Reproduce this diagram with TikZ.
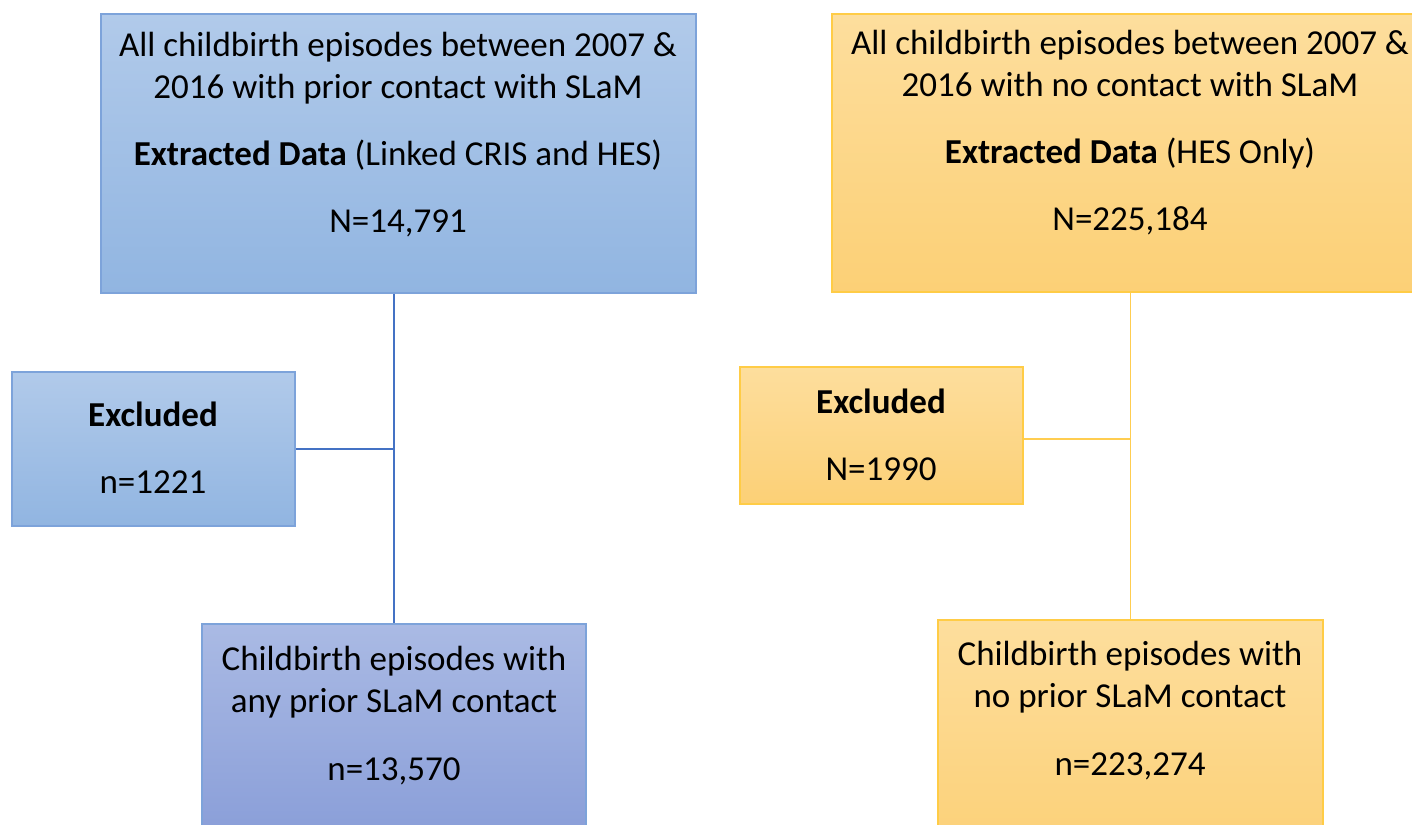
\documentclass[tikz,border=0pt]{standalone}
\usepackage{fontspec}
\setmainfont{Carlito}
\usepackage{xcolor}

\definecolor{blueedge}{RGB}{125,163,218}
\definecolor{bluetop}{RGB}{177,202,234}
\definecolor{bluebot}{RGB}{145,181,225}
\definecolor{violtop}{RGB}{170,186,228}
\definecolor{violbot}{RGB}{134,155,215}
\definecolor{bluelink}{RGB}{68,114,196}
\definecolor{goldedge}{RGB}{255,204,70}
\definecolor{goldtop}{RGB}{253,222,157}
\definecolor{goldbot}{RGB}{252,208,118}
\definecolor{goldlink}{RGB}{255,205,80}

\begin{document}
\begin{tikzpicture}[x=1pt, y=-1pt,
    box/.style={rectangle, inner sep=0pt, line width=1.5pt},
    bluebox/.style={box, draw=blueedge, top color=bluetop, bottom color=bluebot},
    violbox/.style={box, draw=blueedge, top color=violtop, bottom color=violbot},
    goldbox/.style={box, draw=goldedge, top color=goldtop, bottom color=goldbot},
    txt/.style={anchor=base, align=center, inner sep=0pt, font=\fontsize{35}{42}\selectfont}]

    % page frame
    \useasboundingbox (0,0) rectangle (1412,824);

    % Left column: prior contact with SLaM

    \node[bluebox, minimum width=595pt, minimum height=279pt] (prior) at (398.5,153.5) {};
    \node[bluebox, minimum width=283pt, minimum height=154pt] (exclA) at (153.5,449) {};
    \node[violbox, minimum width=384pt, minimum height=236pt] (cohortA) at (394,742) {};

    \draw[bluelink, line width=1.3pt] (prior.south -| cohortA.north) -- (cohortA.north);
    \draw[bluelink, line width=1.3pt] (exclA.east) -- (exclA.east -| cohortA.north);

    % two-line texts sit on the baseline of their last line
    \node[txt] (priorT) at (398,99) {All childbirth episodes between 2007 \&\\2016 with prior contact with SLaM};
    \node[txt] (priorD) at (398,165) {\textbf{Extracted Data} (Linked CRIS and HES)};
    \node[txt] (priorN) at (398,232) {N=14,791};

    \node[txt] (exclAT) at (153,426) {\textbf{Excluded}};
    \node[txt] (exclAN) at (153,493) {n=1221};

    \node[txt] (cohortAT) at (394,712) {Childbirth episodes with\\any prior SLaM contact};
    \node[txt] (cohortAN) at (394,780) {n=13,570};

    % Right column: no contact with SLaM

    \node[goldbox, minimum width=596pt, minimum height=278pt] (noprior) at (1130,153) {};
    \node[goldbox, minimum width=283pt, minimum height=137pt] (exclB) at (881.5,435.5) {};
    \node[goldbox, minimum width=385pt, minimum height=240pt] (cohortB) at (1130.5,740) {};

    \draw[goldlink, line width=1.5pt] (noprior.south -| cohortB.north) -- (cohortB.north);
    \draw[goldlink, line width=1.5pt] (exclB.east) ++(0,3.5) coordinate (jointB) -- (jointB -| cohortB.north);

    \node[txt] (nopriorT) at (1130,97) {All childbirth episodes between 2007 \&\\2016 with no contact with SLaM};
    \node[txt] (nopriorD) at (1130,163) {\textbf{Extracted Data} (HES Only)};
    \node[txt] (nopriorN) at (1130,230) {N=225,184};

    \node[txt] (exclBT) at (881,413) {\textbf{Excluded}};
    \node[txt] (exclBN) at (881,480) {N=1990};

    \node[txt] (cohortBT) at (1130,707) {Childbirth episodes with\\no prior SLaM contact};
    \node[txt] (cohortBN) at (1130,775) {n=223,274};

\end{tikzpicture}
\end{document}
